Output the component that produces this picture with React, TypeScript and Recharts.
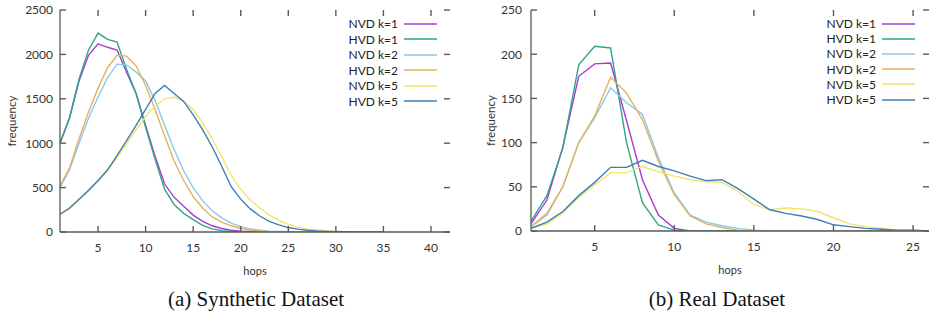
import React from 'react';
import { LineChart, Line, XAxis, YAxis, Legend } from 'recharts';

const FONT = 'Lato, "Liberation Sans", sans-serif';
const AXIS = '#5a5a5a';
const TXT = '#333';

const seriesNames = ['NVD k=1', 'HVD k=1', 'NVD k=2', 'HVD k=2', 'NVD k=5', 'HVD k=5'];
const seriesKeys = ['nvd1', 'hvd1', 'nvd2', 'hvd2', 'nvd5', 'hvd5'];
const seriesColors = ['#a83cd0', '#2fa58a', '#88c8ee', '#e6b25e', '#f2e36a', '#3d7fb5'];

// (a) Synthetic dataset
const synHops = [1,2,3,4,5,6,7,8,9,10,11,12,13,14,15,16,17,18,19,20,21,22,23,24,25,26,27,28,29,30,31,32,33,34,35];
const synNvd1 = [1000,1280,1700,1990,2120,2080,2050,1800,1560,1200,850,540,390,290,190,120,70,40,20,10,5,2,1,0,0,0,0,0,0,0,0,0,0,0,0];
const synHvd1 = [1000,1290,1720,2050,2240,2170,2140,1830,1560,1180,820,480,310,210,140,75,35,15,6,3,1,0,0,0,0,0,0,0,0,0,0,0,0,0,0];
const synNvd2 = [500,700,1000,1280,1520,1740,1890,1880,1800,1700,1480,1200,930,690,500,350,240,160,100,60,35,20,10,5,2,1,0,0,0,0,0,0,0,0,0];
const synHvd2 = [520,720,1050,1350,1620,1850,1990,1980,1870,1650,1380,1080,800,580,400,270,170,110,70,40,22,12,6,3,1,0,0,0,0,0,0,0,0,0,0];
const synNvd5 = [200,260,360,460,570,690,840,990,1150,1300,1420,1500,1520,1470,1380,1230,1050,850,640,480,360,270,190,130,85,55,35,22,14,8,4,2,1,0,0];
const synHvd5 = [200,270,370,470,580,700,860,1030,1200,1380,1560,1650,1560,1470,1320,1150,960,740,510,370,260,180,120,80,50,32,20,12,7,4,2,1,0,0,0];
const synXTicks = [5,10,15,20,25,30,35,40];
const synYTicks = [0,500,1000,1500,2000,2500];

// (b) Real dataset
const realHops = [1,2,3,4,5,6,7,8,9,10,11,12,13,14,15,16,17,18,19,20,21,22,23,24,25,26];
const realNvd1 = [8,35,95,175,189,190,125,58,18,3,0,0,0,0,0,0,0,0,0,0,0,0,0,0,0,0];
const realHvd1 = [11,40,94,188,209,207,100,32,7,1,0,0,0,0,0,0,0,0,0,0,0,0,0,0,0,0];
const realNvd2 = [5,18,50,100,128,162,145,132,83,43,18,10,6,3,1,0,0,0,0,0,0,0,0,0,0,0];
const realHvd2 = [5,20,50,100,130,174,156,126,79,41,17,8,4,1,0,0,0,0,0,0,0,0,0,0,0,0];
const realNvd5 = [3,8,20,38,52,66,66,73,67,62,58,56,55,45,30,24,26,25,22,15,8,5,3,1,1,0];
const realHvd5 = [3,10,22,40,55,72,72,80,73,68,62,57,58,48,36,24,20,17,13,7,5,3,2,1,1,0];
const realXTicks = [5,10,15,20,25];
const realYTicks = [0,50,100,150,200,250];

const build = (hops: number[], cols: number[][]) =>
  hops.map((h, i) => {
    const row: any = { hops: h };
    seriesKeys.forEach((k, j) => { row[k] = cols[j][i]; });
    return row;
  });

const synData = build(synHops, [synNvd1, synHvd1, synNvd2, synHvd2, synNvd5, synHvd5]);
const realData = build(realHops, [realNvd1, realHvd1, realNvd2, realHvd2, realNvd5, realHvd5]);

const TL = 6;
const TICK_COLOR = AXIS;
const TICK_W = 1.4;

// Custom ticks: draw the inward tick on the axis and its mirror on the opposite
// border of the plot box, plus the label. (x, y) is the axis position (tickSize 0).
const makeBottomTick = (plotTop: number) => (props: any) => {
  const { x, y, payload } = props;
  return (
    <g>
      <rect x={x - TICK_W / 2} y={y - TL} width={TICK_W} height={TL} fill={TICK_COLOR} />
      <rect x={x - TICK_W / 2} y={plotTop} width={TICK_W} height={TL} fill={TICK_COLOR} />
      <text x={x} y={y + 20} textAnchor="middle" fontFamily={FONT} fontSize={12} fill={TXT}>{payload.value}</text>
    </g>
  );
};
const makeLeftTick = (gap: number, plotRight: number) => (props: any) => {
  const { x, y, payload } = props;
  return (
    <g>
      <rect x={x} y={y - TICK_W / 2} width={TL} height={TICK_W} fill={TICK_COLOR} />
      <rect x={plotRight - TL} y={y - TICK_W / 2} width={TL} height={TICK_W} fill={TICK_COLOR} />
      <text x={x - gap} y={y} dy="0.36em" textAnchor="end" fontFamily={FONT} fontSize={12} fill={TXT}>{payload.value}</text>
    </g>
  );
};

const makeLegend = (rowH: number) => (props: any) => {
  const payload = [...(props.payload || [])].sort(
    (a: any, b: any) => seriesNames.indexOf(a.value) - seriesNames.indexOf(b.value)
  );
  return (
    <div style={{ fontFamily: FONT, fontSize: 12, color: '#222' }}>
      {payload.map((p: any) => (
        <div key={p.value} style={{ display: 'flex', justifyContent: 'flex-end', alignItems: 'center', height: rowH, lineHeight: rowH + 'px' }}>
          <span>{p.value}</span>
          <svg width={39} height={4} style={{ display: 'block' }}>
            <line x1={6} y1={2} x2={39} y2={2} stroke={p.color} strokeWidth={1.5} />
          </svg>
        </div>
      ))}
    </div>
  );
};

type PanelProps = {
  data: any[];
  width: number;
  height: number;
  margin: any;
  yWidth: number;
  xAxisH: number;
  xDomain: number[];
  yDomain: number[];
  xTicks: number[];
  yTicks: number[];
  tickGap: number;
  freqOffset: number;
  legendLeft: number;
  legendRow: number;
};

const Panel = (p: PanelProps) => {
  const plotTop = p.margin.top;
  const plotRight = p.width - p.margin.right;
  const LeftTick = makeLeftTick(p.tickGap, plotRight);
  const BottomTick = makeBottomTick(plotTop);
  return (
    <LineChart width={p.width} height={p.height} data={p.data} margin={p.margin}>
      <XAxis
        dataKey="hops"
        type="number"
        domain={p.xDomain}
        ticks={p.xTicks}
        interval={0}
        allowDataOverflow
        height={p.xAxisH}
        tickSize={0}
        tickMargin={0}
        tickLine={false}
        tick={<BottomTick />}
        axisLine={{ stroke: AXIS, strokeWidth: 1.3 }}
        label={{ value: 'hops', position: 'insideTop', offset: 35, style: { fontFamily: FONT, fontSize: 11, fill: TXT } }}
      />
      <XAxis
        xAxisId="top"
        orientation="top"
        dataKey="hops"
        type="number"
        domain={p.xDomain}
        allowDataOverflow
        height={0}
        tick={false}
        tickLine={false}
        axisLine={{ stroke: AXIS, strokeWidth: 1.3 }}
      />
      <YAxis
        type="number"
        domain={p.yDomain}
        ticks={p.yTicks}
        interval={0}
        allowDataOverflow
        width={p.yWidth}
        tickSize={0}
        tickMargin={0}
        tickLine={false}
        tick={<LeftTick />}
        axisLine={{ stroke: AXIS, strokeWidth: 1.3 }}
        label={{ value: 'frequency', angle: -90, position: 'insideLeft', offset: p.freqOffset, style: { fontFamily: FONT, fontSize: 11.5, fill: TXT, textAnchor: 'middle' } }}
      />
      <YAxis
        yAxisId="right"
        orientation="right"
        type="number"
        domain={p.yDomain}
        allowDataOverflow
        width={0}
        tick={false}
        tickLine={false}
        axisLine={{ stroke: AXIS, strokeWidth: 1.3 }}
      />
      <Legend
        layout="vertical"
        align="center"
        verticalAlign="middle"
        wrapperStyle={{ left: p.legendLeft, top: 16, width: 110 }}
        content={makeLegend(p.legendRow)}
      />
      {seriesKeys.map((k, i) => (
        <Line
          key={k}
          dataKey={k}
          name={seriesNames[i]}
          stroke={seriesColors[i]}
          strokeWidth={1.4}
          dot={false}
          activeDot={false}
          type="linear"
          isAnimationActive={false}
        />
      ))}
    </LineChart>
  );
};

const captionStyle: React.CSSProperties = {
  position: 'absolute',
  top: 286,
  width: 300,
  textAlign: 'center',
  fontFamily: '"Liberation Serif", "Times New Roman", serif',
  fontSize: 21,
  color: '#111',
  lineHeight: '26px',
};

export default function App() {
  return (
    <div style={{ position: 'absolute', left: 0, top: 0, width: 934, height: 323, background: '#fff', overflow: 'hidden' }}>
      <div style={{ position: 'absolute', left: 0, top: 0 }}>
        <Panel
          data={synData}
          width={460}
          height={290}
          margin={{ top: 10, right: 10, bottom: 0, left: 0 }}
          yWidth={60}
          xAxisH={58}
          xDomain={[1, 42]}
          yDomain={[0, 2500]}
          xTicks={synXTicks}
          yTicks={synYTicks}
          tickGap={7}
          freqOffset={12}
          legendLeft={327}
          legendRow={15.5}
        />
      </div>
      <div style={{ position: 'absolute', left: 470, top: 0 }}>
        <Panel
          data={realData}
          width={464}
          height={290}
          margin={{ top: 10, right: 5, bottom: 0, left: 0 }}
          yWidth={61}
          xAxisH={59}
          xDomain={[1, 26]}
          yDomain={[0, 250]}
          xTicks={realXTicks}
          yTicks={realYTicks}
          tickGap={9}
          freqOffset={21}
          legendLeft={335}
          legendRow={15.2}
        />
      </div>
      <div style={{ ...captionStyle, left: 106 }}>(a) Synthetic Dataset</div>
      <div style={{ ...captionStyle, left: 567 }}>(b) Real Dataset</div>
    </div>
  );
}
